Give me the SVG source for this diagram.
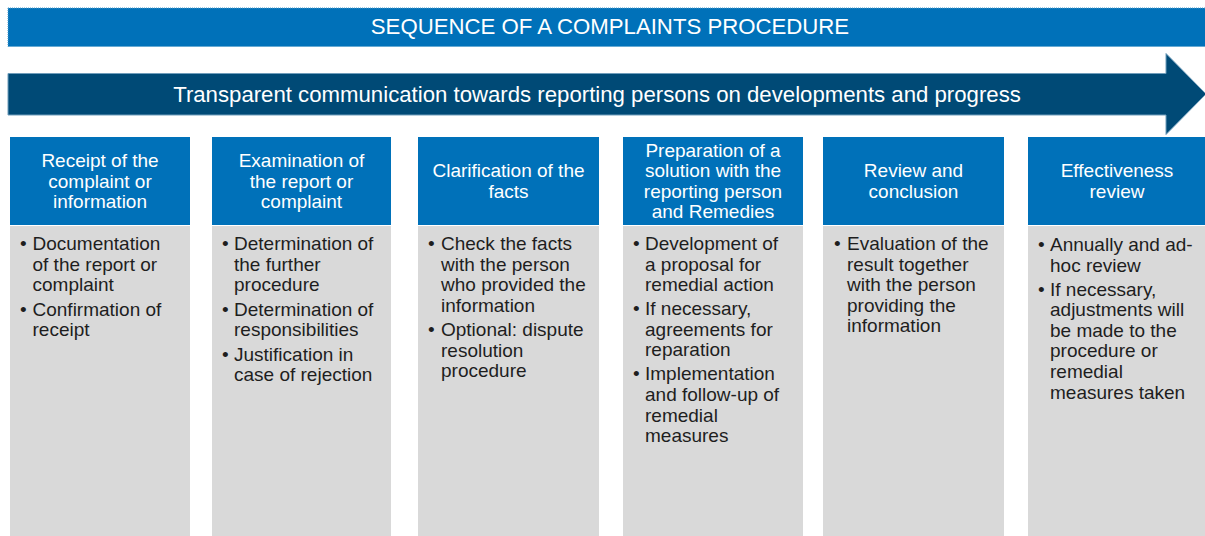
<svg xmlns="http://www.w3.org/2000/svg" width="1205" height="536" viewBox="0 0 1205 536">
  <style>
    .banner { fill: #0071B9; stroke: #4E9CCB; stroke-width: 1; stroke-dasharray: 1 1; }
    .arrow { fill: #004A76; stroke: #6F9DBB; stroke-width: 1; }
    .head { fill: #0071B9; }
    .body { fill: #D9D9D9; }
    .title { font-family: "Liberation Sans", Arial, sans-serif; font-size: 22.2px; fill: #FFFFFF; text-anchor: middle; }
    .htxt { font-family: "Liberation Sans", Arial, sans-serif; font-size: 19px; fill: #FFFFFF; text-anchor: middle; }
    .btxt { font-family: "Liberation Sans", Arial, sans-serif; font-size: 19px; fill: #1E1E1E; }
  </style>

  <!-- Title banner -->
  <g id="title">
    <rect class="banner" x="8" y="8" width="1200" height="38.5"/>
    <text class="title" x="610" y="34">SEQUENCE OF A COMPLAINTS PROCEDURE</text>
  </g>

  <!-- Communication arrow across all stages -->
  <g id="communication">
    <path class="arrow" d="M8 73.5 H1166 V53.5 L1206 94 L1166 134.5 V115 H8 Z"/>
    <text class="title" x="597" y="102">Transparent communication towards reporting persons on developments and progress</text>
  </g>

  <g id="connectors"/>

  <!-- Stage 1 -->
  <g id="stage-receipt">
    <rect class="head" x="10" y="137" width="180" height="88"/>
    <rect class="body" x="10" y="226" width="180" height="320"/>
    <text class="htxt" x="100" y="167">Receipt of the</text>
    <text class="htxt" x="100" y="187.6">complaint or</text>
    <text class="htxt" x="100" y="208.2">information</text>
    <text class="btxt">
      <tspan x="20" y="250">•</tspan><tspan x="32.5" y="250">Documentation</tspan>
      <tspan x="32.5" y="270.6">of the report or</tspan>
      <tspan x="32.5" y="291.2">complaint</tspan>
      <tspan x="20" y="315.6">•</tspan><tspan x="32.5" y="315.6">Confirmation of</tspan>
      <tspan x="32.5" y="336.2">receipt</tspan>
    </text>
  </g>

  <!-- Stage 2 -->
  <g id="stage-examination">
    <rect class="head" x="212" y="137" width="179" height="88"/>
    <rect class="body" x="212" y="226" width="179" height="320"/>
    <text class="htxt" x="301.5" y="167">Examination of</text>
    <text class="htxt" x="301.5" y="187.6">the report or</text>
    <text class="htxt" x="301.5" y="208.2">complaint</text>
    <text class="btxt">
      <tspan x="222" y="250">•</tspan><tspan x="234" y="250">Determination of</tspan>
      <tspan x="234" y="270.6">the further</tspan>
      <tspan x="234" y="291.2">procedure</tspan>
      <tspan x="222" y="315.6">•</tspan><tspan x="234" y="315.6">Determination of</tspan>
      <tspan x="234" y="336.2">responsibilities</tspan>
      <tspan x="222" y="360.6">•</tspan><tspan x="234" y="360.6">Justification in</tspan>
      <tspan x="234" y="381.2">case of rejection</tspan>
    </text>
  </g>

  <!-- Stage 3 -->
  <g id="stage-clarification">
    <rect class="head" x="418" y="137" width="181" height="88"/>
    <rect class="body" x="418" y="226" width="181" height="320"/>
    <text class="htxt" x="508.5" y="177.2">Clarification of the</text>
    <text class="htxt" x="508.5" y="197.8">facts</text>
    <text class="btxt">
      <tspan x="428" y="250">•</tspan><tspan x="441" y="250">Check the facts</tspan>
      <tspan x="441" y="270.6">with the person</tspan>
      <tspan x="441" y="291.2">who provided the</tspan>
      <tspan x="441" y="311.8">information</tspan>
      <tspan x="428" y="336">•</tspan><tspan x="441" y="336">Optional: dispute</tspan>
      <tspan x="441" y="356.6">resolution</tspan>
      <tspan x="441" y="377.2">procedure</tspan>
    </text>
  </g>

  <!-- Stage 4 -->
  <g id="stage-solution">
    <rect class="head" x="623" y="137" width="180" height="88"/>
    <rect class="body" x="623" y="226" width="180" height="320"/>
    <text class="htxt" x="713" y="156.6">Preparation of a</text>
    <text class="htxt" x="713" y="177.2">solution with the</text>
    <text class="htxt" x="713" y="197.8">reporting person</text>
    <text class="htxt" x="713" y="218.4">and Remedies</text>
    <text class="btxt">
      <tspan x="633" y="250">•</tspan><tspan x="645" y="250">Development of</tspan>
      <tspan x="645" y="270.6">a proposal for</tspan>
      <tspan x="645" y="291.2">remedial action</tspan>
      <tspan x="633" y="315.2">•</tspan><tspan x="645" y="315.2">If necessary,</tspan>
      <tspan x="645" y="335.8">agreements for</tspan>
      <tspan x="645" y="356.4">reparation</tspan>
      <tspan x="633" y="380.4">•</tspan><tspan x="645" y="380.4">Implementation</tspan>
      <tspan x="645" y="401">and follow-up of</tspan>
      <tspan x="645" y="421.6">remedial</tspan>
      <tspan x="645" y="442.2">measures</tspan>
    </text>
  </g>

  <!-- Stage 5 -->
  <g id="stage-review">
    <rect class="head" x="823" y="137" width="181" height="88"/>
    <rect class="body" x="823" y="226" width="181" height="320"/>
    <text class="htxt" x="913.5" y="177.2">Review and</text>
    <text class="htxt" x="913.5" y="197.8">conclusion</text>
    <text class="btxt">
      <tspan x="834" y="250">•</tspan><tspan x="847" y="250">Evaluation of the</tspan>
      <tspan x="847" y="270.6">result together</tspan>
      <tspan x="847" y="291.2">with the person</tspan>
      <tspan x="847" y="311.8">providing the</tspan>
      <tspan x="847" y="332.4">information</tspan>
    </text>
  </g>

  <!-- Stage 6 -->
  <g id="stage-effectiveness">
    <rect class="head" x="1028" y="137" width="180" height="88"/>
    <rect class="body" x="1028" y="226" width="180" height="320"/>
    <text class="htxt" x="1117" y="177.2">Effectiveness</text>
    <text class="htxt" x="1117" y="197.8">review</text>
    <text class="btxt">
      <tspan x="1038" y="251">•</tspan><tspan x="1050" y="251">Annually and ad-</tspan>
      <tspan x="1050" y="271.6">hoc review</tspan>
      <tspan x="1038" y="295.6">•</tspan><tspan x="1050" y="295.6">If necessary,</tspan>
      <tspan x="1050" y="316.2">adjustments will</tspan>
      <tspan x="1050" y="336.8">be made to the</tspan>
      <tspan x="1050" y="357.4">procedure or</tspan>
      <tspan x="1050" y="378">remedial</tspan>
      <tspan x="1050" y="398.6">measures taken</tspan>
    </text>
  </g>
</svg>
